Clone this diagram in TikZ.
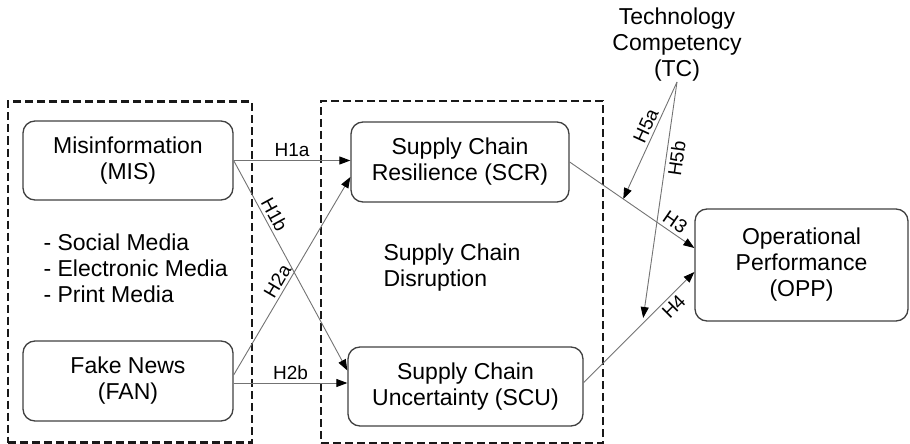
\documentclass[tikz,border=0pt]{standalone}
\usepackage{fontspec}
\setmainfont{Liberation Sans}
\usepackage{tikz}
\usetikzlibrary{arrows.meta}

\begin{document}
\begin{tikzpicture}[x=1pt, y=-1pt,
    font=\fontsize{23}{26}\selectfont,
    box/.style={draw=black!75, line width=1.3pt, rounded corners=12pt, align=center},
    group/.style={draw=black!90, line width=2.5pt, dash pattern=on 8pt off 4pt},
    link/.style={draw=black!55, line width=0.9pt, -{Triangle[length=11pt,width=8pt,color=black]}},
    hyp/.style={font=\fontsize{19}{21}\selectfont, inner sep=3pt}]
    \useasboundingbox (0,0) rectangle (910,444);

    % dashed groups
    \node [group, minimum width=244pt, minimum height=341pt] (media) at (130,272) {};
    \node [group, minimum width=282pt, minimum height=342pt] (disr) at (462,272) {};

    \node [box, minimum width=210pt, minimum height=79pt] (mis) at (128,160.5) {Misinformation\\(MIS)};
    \node [box, minimum width=210pt, minimum height=80pt] (fan) at (128,381) {Fake News\\(FAN)};
    \node [align=left, anchor=west] (kinds) at (40,268) {- Social Media\\- Electronic Media\\- Print Media};

    \node [box, minimum width=218pt, minimum height=80pt] (scr) at (460,162) {Supply Chain\\Resilience (SCR)};
    \node [box, minimum width=235pt, minimum height=79pt] (scu) at (465.5,386.5) {Supply Chain\\Uncertainty (SCU)};
    \node [align=left, anchor=west] (scd) at (380,268) {Supply Chain\\Disruption};

    \node [box, minimum width=213pt, minimum height=112pt] (opp) at (801.5,265) {Operational\\Performance\\(OPP)};
    \node [align=center, anchor=south, inner sep=1pt] (tc) at (677,82) {Technology\\Competency\\(TC)};

    \path
    (mis.east) edge [link] node [hyp, above] {H1a} (mis.east -| scr.west)
    (mis.east) edge [link] node [hyp, above, sloped, pos=0.28] {H1b} ([yshift=16pt]scu.west)
    ([yshift=6pt]fan.east) edge [link] node [hyp, above, sloped, pos=0.45] {H2a} ([yshift=-15pt]scr.west)
    ([yshift=-2pt]fan.east) edge [link] node [hyp, above] {H2b} ([yshift=-2pt]fan.east -| scu.west)
    ;
    \draw [link] (scr.east) -- coordinate[pos=0.43] (h3mid) node [hyp, above, sloped, pos=0.8] {H3} ([yshift=17pt]opp.west);
    \draw [link] ([yshift=4pt]scu.east) -- coordinate[pos=0.53] (h4mid) node [hyp, below, sloped, pos=0.75] {H4} ([yshift=-7pt]opp.west);

    \path
    (tc.south) edge [link] node [hyp, above, sloped, pos=0.41] {H5a} (h3mid)
    (tc.south) edge [link, shorten >=6pt] node [hyp, below, sloped, pos=0.31] {H5b} (h4mid)
    ;
\end{tikzpicture}
\end{document}
